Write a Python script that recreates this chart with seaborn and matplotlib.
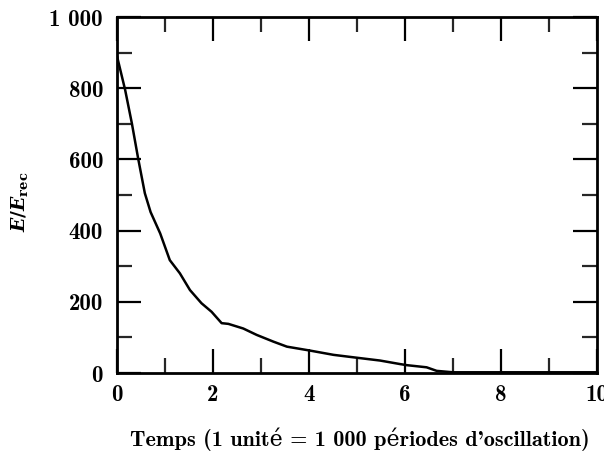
import matplotlib
matplotlib.use("Agg")
import matplotlib.pyplot as plt
import seaborn as sns
import pandas as pd
from matplotlib.ticker import MultipleLocator, FuncFormatter

time = [0.0, 0.17, 0.31, 0.44, 0.58, 0.70, 0.76, 0.90, 1.10, 1.31, 1.52, 1.76, 1.97, 2.18,
        2.32, 2.63, 2.91, 3.26, 3.54, 4.02, 4.51, 4.99, 5.48, 5.90, 6.04, 6.45, 6.66,
        7.0, 8.0, 9.0, 10.0]
energy = [890, 795, 701, 603, 505, 452, 434, 392, 317, 280, 233, 196, 172, 140,
          138, 125, 107, 88, 74, 63, 51, 43, 35, 25, 22, 16, 6,
          2, 2, 2, 2]
xticks = [0, 2, 4, 6, 8, 10]
yticks = [0, 200, 400, 600, 800, 1000]
xlabel = "Temps (1 unité = 1 000 périodes d'oscillation)"

sns.set_theme(style="white")
plt.rcParams['font.family'] = ['cmb10', 'DejaVu Serif']
plt.rcParams['font.weight'] = 'bold'
plt.rcParams['mathtext.fontset'] = 'custom'
plt.rcParams['mathtext.it'] = 'DejaVu Serif:italic:bold'
plt.rcParams['mathtext.bf'] = 'DejaVu Serif:bold'
plt.rcParams['mathtext.rm'] = 'DejaVu Serif:bold'

df = pd.DataFrame({"t": time, "E": energy})

fig = plt.figure(figsize=(6.04, 4.54), dpi=100)
ax = fig.add_axes([117/604, 1 - 373/454, 480/604, 356/454])
sns.lineplot(data=df, x="t", y="E", ax=ax, color="black", linewidth=1.8, sort=False)

ax.set_xlim(0, 10)
ax.set_ylim(0, 1000)
ax.set_xticks(xticks)
ax.set_yticks(yticks)
ax.xaxis.set_minor_locator(MultipleLocator(1))
ax.yaxis.set_minor_locator(MultipleLocator(100))

def fmt(v, pos):
    return f"{int(round(v)):,}".replace(",", " ")
ax.yaxis.set_major_formatter(FuncFormatter(fmt))
ax.xaxis.set_major_formatter(FuncFormatter(fmt))

ax.tick_params(which='major', direction='in', length=17, width=1.6, top=True, right=True,
               bottom=True, left=True, labelsize=16.5, colors='black', pad=8)
ax.tick_params(which='minor', direction='in', length=11, width=1.6, top=True, right=True,
               bottom=True, left=True)
ax.tick_params(axis='y', which='major', pad=10)
for s in ax.spines.values():
    s.set_visible(True)
    s.set_linewidth(2.0)
    s.set_color('black')

ax.set_xlabel(xlabel, fontsize=16, color='black')
ax.set_ylabel(r'$E/E_{\mathbf{rec}}$', fontsize=13.5, color='black')
ax.xaxis.set_label_coords(0.505, -0.152)
ax.yaxis.set_label_coords(-0.181, 0.482)

fig.savefig("out.png", dpi=100)
